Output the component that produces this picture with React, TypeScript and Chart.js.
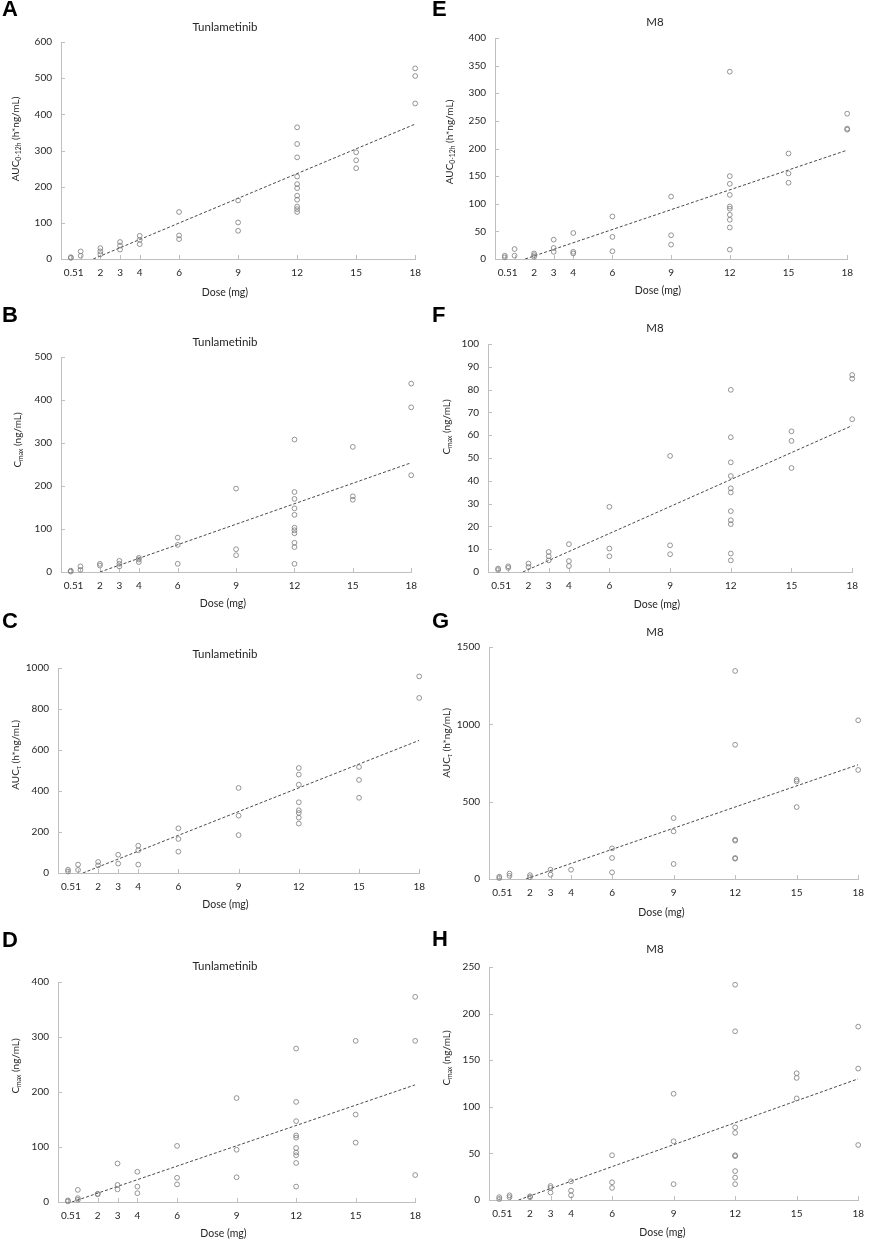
import React, { useEffect, useRef } from 'react';
import { Chart, registerables } from 'chart.js';

Chart.register(...registerables);

// dose levels (mg), also the x tick labels
const doses = [0.5, 1, 2, 3, 4, 6, 9, 12, 15, 18];

// individual values per dose level, same order as doses
const aucTunla12h = [[5, 3], [21, 9], [30, 21, 13], [47, 37, 26], [64, 53, 41], [130, 65, 55], [162, 101, 78],
  [364, 318, 281, 228, 207, 196, 175, 164, 145, 138, 130], [295, 273, 251], [527, 506, 430]];
const cmaxTunlaFirst = [[3, 1], [13, 5], [19, 15], [26, 19, 13], [33, 29, 23], [80, 63, 19], [194, 53, 39],
  [308, 186, 170, 148, 133, 103, 97, 90, 68, 58, 19], [291, 176, 168], [438, 383, 225]];
const aucTunlaTau = [[16, 7], [41, 15], [54, 37], [89, 46], [133, 111, 41], [218, 166, 104], [415, 280, 185],
  [512, 480, 431, 345, 306, 293, 270, 241], [517, 454, 367], [959, 854]];
const cmaxTunlaSteady = [[3, 1], [22, 7, 4], [15, 14], [70, 31, 23], [55, 28, 16], [102, 44, 32], [189, 95, 45],
  [279, 182, 147, 121, 117, 98, 90, 85, 71, 28], [293, 159, 108], [373, 293, 49]];
const aucM8_12h = [[6, 3], [18, 6], [10, 7, 4], [35, 20, 13], [47, 13, 10], [77, 40, 14], [113, 43, 26],
  [339, 150, 136, 116, 95, 91, 80, 71, 57, 17], [191, 155, 138], [263, 236, 234]];
const cmaxM8First = [[1.5, 0.9], [2.5, 1.8], [3.7, 2.2], [8.8, 6.9, 5.1], [12.2, 4.8, 2.6], [28.6, 10.3, 6.9],
  [50.9, 11.7, 7.8], [79.9, 59.1, 48.1, 42.1, 36.7, 34.9, 26.7, 22.7, 21.0, 8.1, 5.1], [61.7, 57.5, 45.6],
  [86.4, 84.8, 67.0]];
const aucM8Tau = [[15, 6], [35, 20], [25, 12], [60, 28], [60], [198, 136, 43], [394, 308, 97],
  [1345, 868, 254, 248, 136, 131], [642, 631, 465], [1026, 705]];
const cmaxM8Steady = [[3, 1], [5, 3], [4, 3], [15, 13, 8], [20, 10, 5], [48, 19, 13], [114, 63, 17],
  [231, 181, 78, 72, 48, 47, 31, 24, 17], [136, 131, 109], [186, 141, 59]];

// dashed fitted lines: [dose, value] at both ends
const trendA = [[1.64, 0], [18, 373]];
const trendB = [[2.0, 0], [18, 254]];
const trendC = [[1.24, 0], [18, 647]];
const trendD = [[0.7, 0], [18, 213]];
const trendE = [[1.54, 0], [18, 197]];
const trendF = [[1.72, 0], [18, 64.2]];
const trendG = [[1.8, 0], [18, 739]];
const trendH = [[1.44, 0], [18, 130]];

const yMaxes = [600, 500, 1000, 400, 400, 100, 1500, 250];
const ySteps = [100, 100, 200, 100, 50, 10, 500, 50];

const letters = ['A', 'B', 'C', 'D', 'E', 'F', 'G', 'H'];
const titles = ['Tunlametinib', 'Tunlametinib', 'Tunlametinib', 'Tunlametinib', 'M8', 'M8', 'M8', 'M8'];

const series = [aucTunla12h, cmaxTunlaFirst, aucTunlaTau, cmaxTunlaSteady, aucM8_12h, cmaxM8First, aucM8Tau, cmaxM8Steady];
const trends = [trendA, trendB, trendC, trendD, trendE, trendF, trendG, trendH];

type Part = { t: string; sub?: boolean };
const yTitleAuc12: Part[] = [{ t: 'AUC' }, { t: '0-12h', sub: true }, { t: ' (h*ng/mL)' }];
const yTitleCmax: Part[] = [{ t: 'C' }, { t: 'max', sub: true }, { t: ' (ng/mL)' }];
const yTitleAucTau: Part[] = [{ t: 'AUC' }, { t: 'τ', sub: true }, { t: ' (h*ng/mL)' }];
const yTitles = [yTitleAuc12, yTitleCmax, yTitleAucTau, yTitleCmax, yTitleAuc12, yTitleCmax, yTitleAucTau, yTitleCmax];

// page geometry of each panel: plot box, title / axis title centres, letter position
const frames = [
  { L: 61, R: 417, T: 42, B: 259, tY: 27, dY: 293, yX: 15, yY: 139, ly: 1 },
  { L: 61, R: 413, T: 357, B: 572, tY: 342, dY: 604, yX: 17, yY: 440, ly: 307 },
  { L: 58, R: 421, T: 668, B: 873, tY: 654, dY: 905, yX: 15, yY: 755, ly: 613 },
  { L: 58, R: 417, T: 982, B: 1202, tY: 966, dY: 1234, yX: 15, yY: 1066, ly: 932 },
  { L: 495, R: 849, T: 38, B: 259, tY: 22, dY: 291, yX: 449, yY: 142, ly: 1 },
  { L: 488, R: 854, T: 344, B: 572, tY: 328, dY: 605, yX: 446, yY: 427, ly: 307 },
  { L: 489, R: 862, T: 647, B: 879, tY: 632, dY: 913, yX: 446, yY: 743, ly: 613 },
  { L: 489, R: 864, T: 967, B: 1200, tY: 949, dY: 1233, yX: 446, yY: 1058, ly: 931 },
];

const FONT = 'Lato, "Open Sans", sans-serif';
const TEXT = '#262626';
const AXIS = '#bfbfbf';

function Panel({ i }: { i: number }) {
  const ref = useRef<HTMLCanvasElement | null>(null);
  const g = frames[i];
  const cl = i < 4 ? 0 : 436;
  const cr = Math.min(g.R + 12, 872);
  const ct = g.tY - 12;
  const cb = g.dY + 9;

  useEffect(() => {
    if (!ref.current) return;
    const pts = doses.flatMap((d, k) => series[i][k].map((v) => ({ x: d, y: v })));
    const line = trends[i].map(([x, y]) => ({ x, y }));

    const panelText = {
      id: 'panelText',
      beforeDatasetsDraw(chart: any) {
        // short inside tick marks, as in the original
        const ctx = chart.ctx;
        const xs = chart.scales.x;
        const ys = chart.scales.y;
        const { left, bottom } = chart.chartArea;
        ctx.save();
        ctx.strokeStyle = AXIS;
        ctx.lineWidth = 1;
        ctx.beginPath();
        xs.ticks.forEach((t: any) => {
          const px = Math.round(xs.getPixelForValue(t.value)) + 0.5;
          ctx.moveTo(px, bottom);
          ctx.lineTo(px, bottom - 4);
        });
        ys.ticks.forEach((t: any) => {
          const py = Math.round(ys.getPixelForValue(t.value)) + 0.5;
          ctx.moveTo(left, py);
          ctx.lineTo(left + 4, py);
        });
        ctx.stroke();
        ctx.restore();
      },
      afterDraw(chart: Chart) {
        const ctx = chart.ctx;
        ctx.save();
        ctx.fillStyle = TEXT;
        ctx.textAlign = 'center';
        ctx.textBaseline = 'middle';
        ctx.font = `11.5px ${FONT}`;
        ctx.fillText(titles[i], (i < 4 ? 225 : 655) - cl, g.tY - ct);
        ctx.font = `10.5px ${FONT}`;
        ctx.fillText('Dose (mg)', (g.L + g.R) / 2 - 14 - cl, g.dY - ct);

        // rotated y title with subscript
        ctx.translate(g.yX - cl, g.yY - ct);
        ctx.rotate(-Math.PI / 2);
        ctx.textAlign = 'left';
        ctx.textBaseline = 'alphabetic';
        const parts = yTitles[i];
        const widths = parts.map((p) => {
          ctx.font = `${p.sub ? 6.8 : 10}px ${FONT}`;
          return ctx.measureText(p.t).width;
        });
        let x = -widths.reduce((a, b) => a + b, 0) / 2;
        parts.forEach((p, k) => {
          ctx.font = `${p.sub ? 6.8 : 10}px ${FONT}`;
          ctx.fillText(p.t, x, p.sub ? 5.8 : 3.6);
          x += widths[k];
        });
        ctx.restore();
      },
    };

    const chart = new Chart(ref.current, {
      type: 'scatter',
      data: {
        datasets: [
          {
            data: pts,
            pointStyle: 'circle',
            pointRadius: 2.4,
            pointHoverRadius: 2.4,
            borderColor: '#7a7a7a',
            backgroundColor: 'rgba(255,255,255,0)',
            borderWidth: 0.8,
            clip: false,
          },
          {
            data: line,
            showLine: true,
            pointRadius: 0,
            borderColor: '#4a4a4a',
            borderWidth: 1,
            borderDash: [3, 2],
          },
        ],
      },
      options: {
        responsive: false,
        animation: false,
        events: [],
        layout: { padding: { left: 0, right: cr - g.R, top: g.T - ct, bottom: 0 } },
        plugins: {
          legend: { display: false },
          tooltip: { enabled: false },
          title: { display: false },
        },
        scales: {
          x: {
            type: 'linear',
            min: 0,
            max: 18,
            grid: { display: false, drawTicks: false },
            border: { display: true, color: AXIS, width: 1 },
            afterBuildTicks: (s: any) => {
              s.ticks = doses.map((v) => ({ value: v }));
            },
            afterFit: (s: any) => {
              s.height = cb - g.B;
            },
            ticks: {
              autoSkip: false,
              maxRotation: 0,
              padding: 8,
              color: TEXT,
              font: { family: FONT, size: 10 },
              callback: (v: any) => String(v),
            },
          },
          y: {
            min: 0,
            max: yMaxes[i],
            grid: { display: false, drawTicks: false },
            border: { display: true, color: AXIS, width: 1 },
            afterFit: (s: any) => {
              s.width = g.L - cl;
            },
            ticks: {
              stepSize: ySteps[i],
              padding: 9,
              color: TEXT,
              font: { family: FONT, size: 10 },
              callback: (v: any) => String(v),
            },
          },
        },
      },
      plugins: [panelText],
    });
    return () => chart.destroy();
  }, []);

  return (
    <>
      <canvas
        ref={ref}
        width={cr - cl}
        height={cb - ct}
        style={{ position: 'absolute', left: cl, top: ct, width: cr - cl, height: cb - ct }}
      />
      <div
        style={{
          position: 'absolute',
          left: i < 4 ? 2 : 432,
          top: g.ly - 3,
          font: 'bold 22px "Liberation Sans", Arial, sans-serif',
          lineHeight: '22px',
          color: '#000',
        }}
      >
        {letters[i]}
      </div>
    </>
  );
}

export default function App() {
  return (
    <div style={{ position: 'absolute', left: 0, top: 0, width: 872, height: 1242, background: '#fff', overflow: 'hidden' }}>
      {frames.map((_, i) => (
        <Panel key={i} i={i} />
      ))}
    </div>
  );
}
